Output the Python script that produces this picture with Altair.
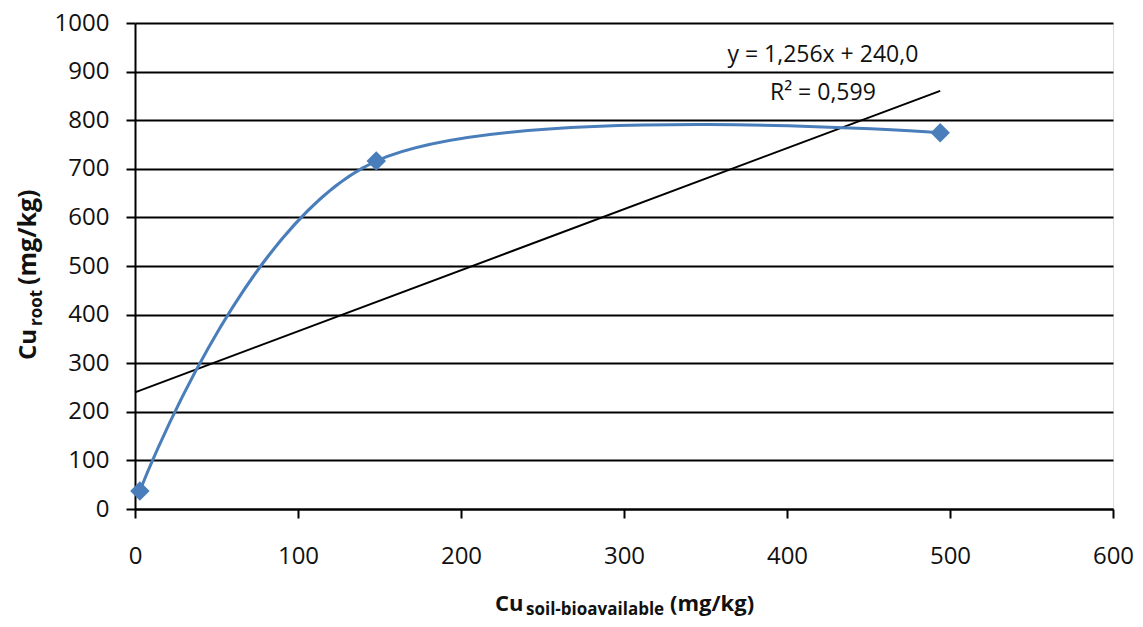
import altair as alt
import pandas as pd

# ---- data ----
soil_x = [3, 148, 494]          # Cu soil-bioavailable (mg/kg)
root_y = [37, 716, 774]         # Cu root (mg/kg)

trend_x = [0, 494]              # extent of linear trendline
trend_slope = 1.256
trend_intercept = 240.0

eq_lines = ["y = 1,256x + 240,0", "R² = 0,599"]
eq_x = [422, 422]
eq_y = [920, 841]

x_ticks = [0, 100, 200, 300, 400, 500, 600]
y_ticks = [0, 100, 200, 300, 400, 500, 600, 700, 800, 900, 1000]

BLUE = "#4A7EBB"
FONT = "Open Sans"

pts = pd.DataFrame({"x": soil_x, "y": root_y})
trend = pd.DataFrame({"x": trend_x})
eq = pd.DataFrame({"label": eq_lines, "x": eq_x, "y": eq_y})

xscale = alt.Scale(domain=[0, 600], nice=False, zero=False)
yscale = alt.Scale(domain=[0, 1000], nice=False)

xaxis = alt.Axis(values=x_ticks, title=None, grid=False, tickSize=9, tickWidth=2,
                 tickColor="black", domainColor="black", domainWidth=2, format="d",
                 labelFont=FONT, labelFontSize=24, labelColor="#111",
                 labelPadding=26, labelFlush=False)
yaxis = alt.Axis(values=y_ticks, title=None, grid=True, gridColor="black", gridWidth=2,
                 tickSize=9, tickWidth=2, tickColor="black", domainColor="black",
                 domainWidth=2, format="d", labelFont=FONT, labelFontSize=24,
                 labelColor="#111", labelPadding=17, labelFlush=False)

base_axes = alt.Chart(pts).mark_point(opacity=0).encode(
    x=alt.X("x:Q", scale=xscale, axis=xaxis),
    y=alt.Y("y:Q", scale=yscale, axis=yaxis),
)

curve = alt.Chart(pts).mark_line(interpolate="cardinal", color=BLUE, strokeWidth=3).encode(
    x=alt.X("x:Q", scale=xscale), y=alt.Y("y:Q", scale=yscale)
)

markers = alt.Chart(pts).mark_point(shape="diamond", filled=True, size=380, color=BLUE, opacity=1).encode(
    x=alt.X("x:Q", scale=xscale), y=alt.Y("y:Q", scale=yscale)
)

trendline = alt.Chart(trend).transform_calculate(
    y=f"{trend_slope} * datum.x + {trend_intercept}"
).mark_line(color="black", strokeWidth=2).encode(
    x=alt.X("x:Q", scale=xscale), y=alt.Y("y:Q", scale=yscale)
)

eq_text = alt.Chart(eq).mark_text(font=FONT, fontSize=23, color="#111", align="center",
                                  baseline="alphabetic").encode(
    x=alt.X("x:Q", scale=xscale), y=alt.Y("y:Q", scale=yscale), text="label:N"
)

def txt(s, x, y, size, angle=0):
    return alt.Chart(pd.DataFrame({"t": [s]})).mark_text(
        font=FONT, fontSize=size, fontWeight="bold", color="#111",
        align="left", baseline="alphabetic", angle=angle
    ).encode(x=alt.value(x), y=alt.value(y), text="t:N")

# x-axis title with subscript
xt1 = txt("Cu", 360, 588, 22)
xt2 = txt("soil-bioavailable", 391, 592, 17)
xt3 = txt("(mg/kg)", 535, 588, 22)

# y-axis title with subscript (rotated)
yt1 = txt("Cu", -99, 337, 24, 270)
yt2 = txt("root", -93, 303, 17, 270)
yt3 = txt("(mg/kg)", -99, 262, 25, 270)

chart = alt.layer(
    base_axes, trendline, curve, markers, eq_text, xt1, xt2, xt3, yt1, yt2, yt3
).properties(
    width=978, height=486,
    autosize=alt.AutoSizeParams(type="none"),
    padding={"left": 127, "top": 15, "right": 22, "bottom": 110},
).configure_view(stroke=None).configure(background="white")

chart.save("out.html", embed_options={"renderer": "svg", "actions": False})
